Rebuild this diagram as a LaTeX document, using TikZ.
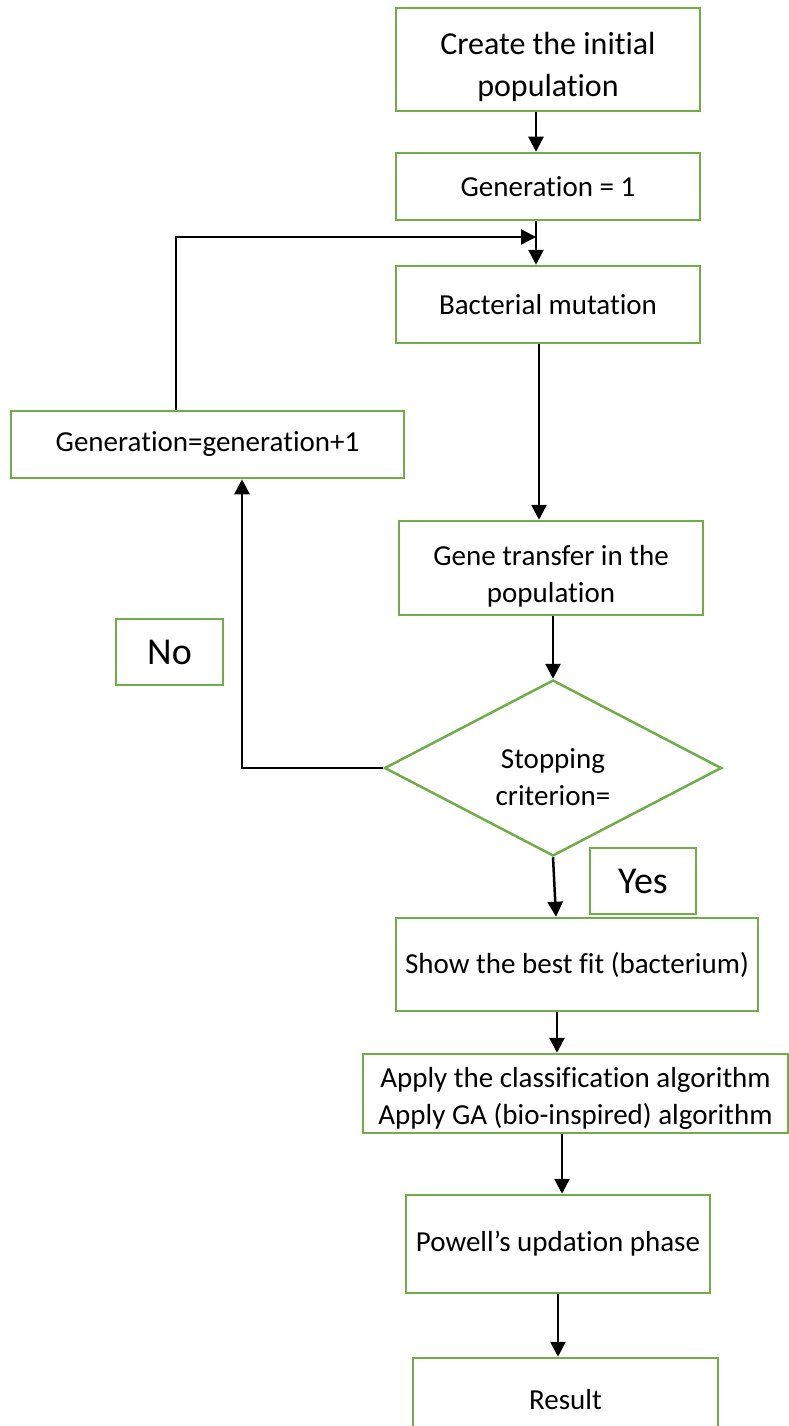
\documentclass[tikz,border=0pt]{standalone}
\usepackage{fontspec}
\setmainfont{Carlito}[Ligatures=NoCommon]
\usepackage{tikz}
\usetikzlibrary{arrows.meta,%
                shapes.geometric}
\definecolor{boxgreen}{RGB}{112,173,71}
% two centred lines, set a bit lower than the middle of the box
\newcommand{\lowtext}[2]{\raisebox{-#1}[\height][\depth]{\begin{tabular}{@{}c@{}}#2\end{tabular}}}

\begin{document}
\begin{tikzpicture}[x=1pt,y=-1pt]
		\useasboundingbox (0,0) rectangle (788,1426);
		\tikzset{BoxStyle/.style = {draw=boxgreen,line width=2.5pt,shape=rectangle,inner sep=0pt,align=center,font=\fontsize{29}{37}\selectfont}}
		\tikzset{DecisionStyle/.style = {BoxStyle,shape=diamond,aspect=1.9}}
		\tikzset{AnswerStyle/.style = {BoxStyle,font=\fontsize{38}{42}\selectfont}}
		\tikzset{EdgeStyle/.style = {draw=black,line width=2.5pt,-{Triangle[width=15pt,length=15pt]}}}
		\node[BoxStyle,minimum width=304,minimum height=103,font=\fontsize{32}{42}\selectfont] (init) at (548,59.5) {\lowtext{8pt}{Create the initial\\population}};
		\node[BoxStyle,minimum width=304,minimum height=67] (gen) at (548,186.5) {Generation = 1};
		\node[BoxStyle,minimum width=304,minimum height=77] (mut) at (548,304.5) {Bacterial mutation};
		\node[BoxStyle,minimum width=393,minimum height=67] (inc) at (207.5,444.5) {Generation=generation+1};
		\node[BoxStyle,minimum width=304,minimum height=94] (gene) at (551,568) {\lowtext{9pt}{Gene transfer in the\\population}};
		\node[DecisionStyle,minimum width=337,minimum height=176] (cond) at (553,768) {\lowtext{12pt}{Stopping\\criterion=}};
		\node[AnswerStyle,minimum width=107,minimum height=66] (no) at (169.5,652) {No};
		\node[AnswerStyle,minimum width=106,minimum height=66] (yes) at (643,881) {Yes};
		\node[BoxStyle,minimum width=362,minimum height=93] (show) at (577,964.5) {Show the best fit (bacterium)};
		\node[BoxStyle,minimum width=425,minimum height=79] (apply) at (575.5,1093.5) {\lowtext{5pt}{Apply the classification algorithm\\Apply GA (bio-inspired) algorithm}};
		\node[BoxStyle,minimum width=304,minimum height=98] (powell) at (558,1244) {Powell’s updation phase};
		\node[BoxStyle,minimum width=305,minimum height=84] (result) at (565.5,1400) {Result};
		\coordinate (merge) at (536,237);
		% main line
		\draw[EdgeStyle] ([xshift=-12pt]init.south) -- ([xshift=-12pt]gen.north);
		\draw[EdgeStyle] ([xshift=-12pt]gen.south) -- ([xshift=-12pt]mut.north);
		\draw[EdgeStyle] ([xshift=-9pt]mut.south) -- ([xshift=-12pt]gene.north);
		\draw[EdgeStyle] (gene.south -| cond.north) -- (cond.north);
		\draw[EdgeStyle] (cond.south) -- ([xshift=-21pt]show.north);
		\draw[EdgeStyle] ([xshift=-20pt]show.south) -- ([xshift=-18.5pt]apply.north);
		\draw[EdgeStyle] ([xshift=-13.5pt]apply.south) -- ([xshift=4pt]powell.north);
		\draw[EdgeStyle] (powell.south) -- ([xshift=-7.5pt]result.north);
		% loop back:
		{
			\draw[EdgeStyle] (cond.west) -| ([xshift=34.5pt]inc.south);
			\draw[EdgeStyle] ([xshift=-31.5pt]inc.north) |- (merge);
		}
	\end{tikzpicture}
\end{document}
